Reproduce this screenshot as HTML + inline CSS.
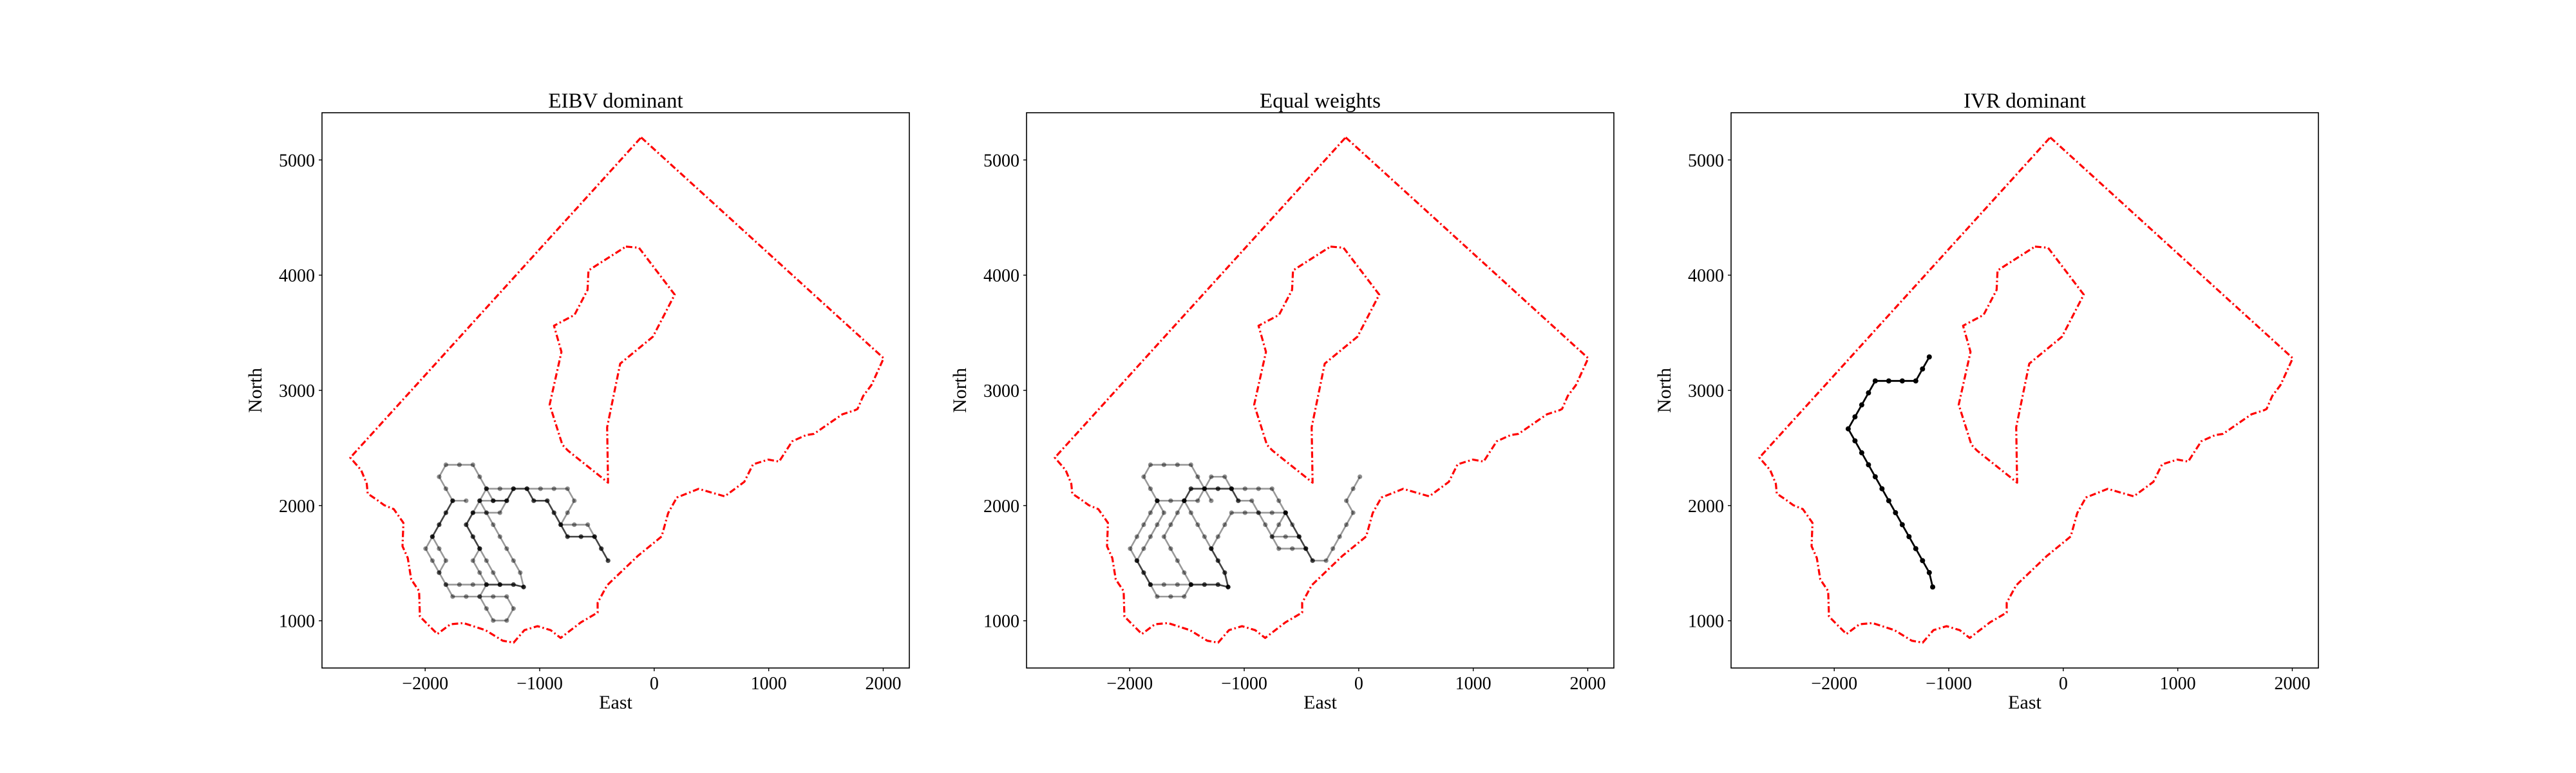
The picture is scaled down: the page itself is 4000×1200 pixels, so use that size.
<!DOCTYPE html>
<html><head><meta charset="utf-8">
<style>
html,body{margin:0;padding:0;background:#fff;}
svg{display:block;font-family:"Liberation Serif","DejaVu Serif",serif;}
</style></head>
<body>
<svg id="fig" width="4000" height="1200" viewBox="0 0 4000 1200" xmlns="http://www.w3.org/2000/svg">
<rect width="4000" height="1200" fill="#fff"/>
</svg>
<script>
// ---- data ----
const panelTitles = ["EIBV dominant", "Equal weights", "IVR dominant"];
const xTicks = [-2000, -1000, 0, 1000, 2000];
const yTicks = [1000, 2000, 3000, 4000, 5000];
const outerX = [-114,2004,1897,1825,1776,1757,1643,1529,1395,1327,1205,1091,996,863,787,616,388,198,122,65,-144,-411,-494,-494,-639,-817,-905,-1019,-1133,-1228,-1323,-1475,-1665,-1779,-1894,-2046,-2053,-2122,-2152,-2198,-2190,-2274,-2357,-2426,-2502,-2510,-2559,-2654,-114];
const outerY = [5196,3279,3046,2951,2839,2829,2792,2714,2622,2612,2558,2382,2399,2358,2206,2080,2145,2070,1935,1732,1562,1308,1156,1071,987,851,919,953,919,810,827,919,980,970,885,1037,1257,1359,1545,1647,1850,1969,2003,2053,2104,2189,2307,2416,5196];
const innerX = [-247,-133,179,-11,-297,-411,-403,-753,-802,-913,-810,-875,-696,-582,-574,-247];
const innerY = [4248,4238,3831,3466,3232,2680,2199,2477,2528,2876,3334,3561,3655,3872,4041,4248];
// lattice paths: [col(half-step), row] pairs
const gridX0 = -1819, gridDX = 59, gridY0 = 2354, gridDY = 104;
const paths1 = [
 [[11.5,10.2],[10,10],[8,10],[6,10],[4,10],[2,10],[0,10],[-1,9],[-2,8],[-3,7],[-2,6],[-1,5],[0,4],[1,3],[0,2],[-1,1],[0,0],[2,0],[4,0],[5,1],[6,2],[7,3],[9,3],[10,2],[12,2],[13,3],[15,3],[16,4],[17,5],[18,6],[20,6],[22,6],[23,7],[24,8]],
 [[1,3],[3,3]],
 [[-2,6],[-1,7],[0,8],[-1,9]],
 [[6,2],[5,3],[4,4],[3,5],[4,6],[5,7],[6,8],[7,9],[8,10]],
 [[5,7],[4,8],[5,9],[6,10],[5,11],[6,12],[7,13],[9,13],[10,12],[9,11],[7,11],[5,11],[3,11],[1,11],[0,10]],
 [[5,3],[6,4],[7,5],[8,6],[9,7],[10,8],[11,9],[11.5,10.2]],
 [[5,3],[7,3]],
 [[4,4],[6,4],[8,4],[9,3]],
 [[6,2],[8,2],[10,2]],
 [[12,2],[14,2],[16,2],[18,2],[19,3],[18,4],[17,5],[19,5],[21,5],[22,6]]
];
const dark1 = [
 [[11.5,10.2],[10,10],[8,10],[6,10]],
 [[1,3],[0,4],[-1,5],[-2,6]],
 [[4,4],[3,5],[4,6],[5,7]],
 [[7,3],[9,3],[10,2],[12,2],[13,3],[15,3],[16,4],[17,5],[18,6],[20,6],[22,6],[23,7],[24,8]]
];
const paths2 = [
 [[11.5,10.2],[10,10],[8,10],[6,10],[4,10],[2,10],[0,10],[-1,9],[-2,8],[-3,7],[-2,6],[-1,5],[0,4],[1,3]],
 [[1,3],[2,4],[1,5],[0,6],[-1,7],[-2,8]],
 [[0,10],[1,11],[3,11],[5,11],[6,10]],
 [[5,3],[4,4],[3,5],[2,6],[3,7],[4,8],[5,9],[6,10]],
 [[5,3],[6,4],[7,5],[8,6],[9,7],[10,8],[11,9],[11.5,10.2]],
 [[9,7],[10,6],[11,5],[12,4],[14,4],[16,4],[18,4],[20,4]],
 [[1,3],[0,2],[-1,1],[0,0],[2,0],[4,0],[6,0],[7,1],[8,2],[9,3]],
 [[1,3],[3,3],[5,3],[7,3],[8,2],[9,1],[11,1],[12,2]],
 [[5,3],[6,2],[8,2],[10,2],[12,2],[14,2],[16,2],[18,2],[19,3],[20,4]],
 [[12,2],[13,3],[15,3],[16,4],[17,5],[18,6],[19,7],[21,7],[23,7],[24,8],[26,8],[27,7],[28,6],[29,5],[30,4],[29,3],[30,2],[31,1]],
 [[20,4],[19,5],[18,6],[20,6],[22,6],[23,7]],
 [[20,4],[21,5],[22,6]]
];
const dark2 = [
 [[11.5,10.2],[10,10],[8,10],[6,10]],
 [[-2,8],[-1,9],[0,10]],
 [[9,7],[10,8],[11,9],[11.5,10.2]],
 [[5,3],[6,2],[8,2],[10,2],[12,2],[13,3]],
 [[20,4],[22,6],[23,7],[24,8]]
];
const paths3 = [
 [[11.5,10.2],[11,9],[10,8],[9,7],[8,6],[7,5],[6,4],[5,3],[4,2],[3,1],[2,0],[1,-1],[0,-2],[-1,-3],[0,-4],[1,-5],[2,-6],[3,-7],[5,-7],[7,-7],[9,-7],[10,-8],[11,-9]]
];
const dark3 = paths3;

// ---- layout ----
const NS = "http://www.w3.org/2000/svg";
const svg = document.getElementById('fig');
const axLefts = [500, 1594, 2688];
const axW = 912, axTop = 175, axH = 862;
const xMin = -2901, xMax = 2228, yMin = 590, yMax = 5410;

function mk(tag, attrs, parent){
  const e = document.createElementNS(NS, tag);
  for (const k in attrs) e.setAttribute(k, attrs[k]);
  (parent||svg).appendChild(e);
  return e;
}

const allPaths = [paths1, paths2, paths3];
const allDark = [dark1, dark2, dark3];

for (let p = 0; p < 3; p++) {
  const L = axLefts[p];
  const sx = v => L + (v - xMin) / (xMax - xMin) * axW;
  const sy = v => axTop + (yMax - v) / (yMax - yMin) * axH;
  const gx = c => sx(gridX0 + c[0] * gridDX);
  const gy = c => sy(gridY0 - c[1] * gridDY);

  const g = mk('g', {});
  
  

  const frame = mk('rect', {x:L, y:axTop, width:axW, height:axH, fill:'none', stroke:'#000', 'stroke-width':1.6}, g);
  
  

  const title = mk('text', {x:L + axW/2, y:167, 'text-anchor':'middle', 'font-size':33, fill:'#000'}, g);
  title.textContent = panelTitles[p];
  
  

  xTicks.forEach(t => {
    const x = sx(t);
    const tk = mk('line', {x1:x, x2:x, y1:axTop+axH, y2:axTop+axH+5, stroke:'#000', 'stroke-width':1.4}, g);
    
    
    const tl = mk('text', {x:x, y:axTop+axH+33, 'text-anchor':'middle', 'font-size':28, fill:'#000'}, g);
    tl.textContent = (t < 0 ? '\u2212' + (-t) : String(t));
    
    
  });
  yTicks.forEach(t => {
    const y = sy(t);
    const tk = mk('line', {x1:L-5, x2:L, y1:y, y2:y, stroke:'#000', 'stroke-width':1.4}, g);
    
    
    const tl = mk('text', {x:L-11, y:y+10, 'text-anchor':'end', 'font-size':28, fill:'#000'}, g);
    tl.textContent = String(t);
    
    
  });
  const xl = mk('text', {x:L + axW/2, y:1100, 'text-anchor':'middle', 'font-size':30, fill:'#000'}, g);
  xl.textContent = 'East';
  
  
  const yl = mk('text', {x:0, y:0, 'text-anchor':'middle', 'font-size':30, fill:'#000', transform:'translate(' + (L-94) + ',' + (axTop+axH/2) + ') rotate(-90)'}, g);
  yl.textContent = 'North';
  
  

  // boundaries
  const dash = {fill:'none', stroke:'#ff0000', 'stroke-width':3.2, 'stroke-dasharray':'10,4,2.5,4', 'stroke-linejoin':'round'};
  const ob = mk('polyline', Object.assign({points: outerX.map((v,i)=>sx(v)+','+sy(outerY[i])).join(' ')}, dash), g);
  
  
  const ib = mk('polyline', Object.assign({points: innerX.map((v,i)=>sx(v)+','+sy(innerY[i])).join(' ')}, dash), g);
  
  

  // paths
  const isDarkOnly = (p === 2);
  if (!isDarkOnly) {
    allPaths[p].forEach(path => {
      const pl = mk('polyline', {points: path.map(c=>gx(c)+','+gy(c)).join(' '), fill:'none', stroke:'#000', 'stroke-opacity':0.4, 'stroke-width':2.6, 'stroke-linejoin':'round'}, g);
      
      
      path.forEach(c => {
        const d = mk('circle', {cx:gx(c), cy:gy(c), r:3.6, fill:'#000', 'fill-opacity':0.45}, g);
        
        
      });
    });
    allDark[p].forEach(path => {
      const pl = mk('polyline', {points: path.map(c=>gx(c)+','+gy(c)).join(' '), fill:'none', stroke:'#000', 'stroke-opacity':0.55, 'stroke-width':2.6, 'stroke-linejoin':'round'}, g);
      
      
      path.forEach(c => {
        const d = mk('circle', {cx:gx(c), cy:gy(c), r:3.6, fill:'#000', 'fill-opacity':0.5}, g);
        
        
      });
    });
  } else {
    allDark[p].forEach(path => {
      const pl = mk('polyline', {points: path.map(c=>gx(c)+','+gy(c)).join(' '), fill:'none', stroke:'#000', 'stroke-width':2.8, 'stroke-linejoin':'round'}, g);
      
      
      path.forEach(c => {
        const d = mk('circle', {cx:gx(c), cy:gy(c), r:4, fill:'#000'}, g);
        
        
      });
    });
  }
}
</script>
</body></html>
